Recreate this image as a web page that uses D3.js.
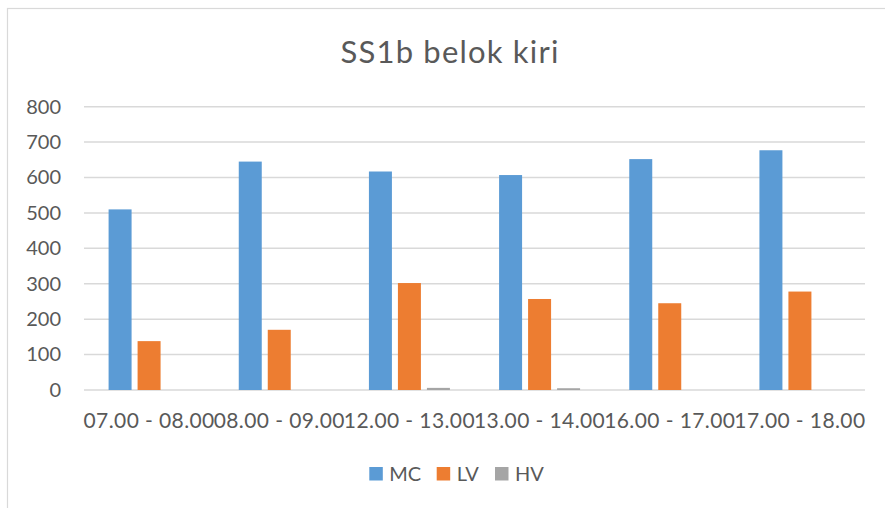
<!DOCTYPE html>
<html>
<head>
<meta charset="utf-8">
<script src="https://cdn.jsdelivr.net/npm/d3@7"></script>
<style>
  body { margin: 0; background: #fff; }
  text { font-family: Lato, "Open Sans", sans-serif; fill: #595959; }
</style>
</head>
<body>
<div id="chart"></div>
<script>
const categories = ['07.00 - 08.00', '08.00 - 09.00', '12.00 - 13.00', '13.00 - 14.00', '16.00 - 17.00', '17.00 - 18.00'];
const series = ['MC', 'LV', 'HV'];
const mcValues = [510, 645, 617, 607, 652, 677];
const lvValues = [138, 170, 302, 257, 245, 278];
const hvValues = [0, 0, 6, 5, 0, 0];
const yTicks = [0, 100, 200, 300, 400, 500, 600, 700, 800];
const colors = ['#5B9BD5', '#ED7D31', '#A5A5A5'];

const W = 885, H = 508;
const margin = { left: 84, right: 20, top: 106.7, bottom: 118 };
const plotRight = 865;
const plotBottom = 390;

const svg = d3.select('#chart').append('svg').attr('width', W).attr('height', H);

// chart border
svg.append('rect')
  .attr('x', 7.5).attr('y', 8.5)
  .attr('width', W + 10).attr('height', H + 10)
  .attr('fill', 'none').attr('stroke', '#D9D9D9').attr('stroke-width', 1.2);

// title
svg.append('text')
  .attr('x', 450).attr('y', 63)
  .attr('text-anchor', 'middle')
  .attr('font-size', '31px')
  .style('letter-spacing', '1.2px')
  .text('SS1b belok kiri');

const x0 = d3.scaleBand().domain(categories).range([margin.left, plotRight]).padding(0);
const x1 = d3.scaleBand().domain(series).range([0, x0.bandwidth()])
  .paddingInner(0.207).paddingOuter(0.848);
const y = d3.scaleLinear().domain([0, 800]).range([plotBottom, margin.top]);

// gridlines
svg.append('g')
  .selectAll('line')
  .data(yTicks)
  .join('line')
  .attr('x1', margin.left).attr('x2', plotRight)
  .attr('y1', d => y(d)).attr('y2', d => y(d))
  .attr('stroke', '#D9D9D9').attr('stroke-width', 1.5);

// y axis labels
const yAxis = d3.axisLeft(y).tickValues(yTicks).tickSize(0).tickPadding(0);
const yg = svg.append('g').attr('transform', `translate(61,0)`).call(yAxis);
yg.select('.domain').remove();
yg.selectAll('text').attr('font-size', '20px').attr('fill', '#595959')
  .style('font-family', 'Lato, sans-serif');

// bars
const rows = categories.map((c, i) => ({ cat: c, vals: [mcValues[i], lvValues[i], hvValues[i]] }));
const groups = svg.append('g')
  .selectAll('g')
  .data(rows)
  .join('g')
  .attr('transform', d => `translate(${x0(d.cat)},0)`);

groups.selectAll('rect')
  .data(d => d.vals.map((v, j) => ({ key: series[j], v, j })))
  .join('rect')
  .attr('x', d => x1(d.key))
  .attr('width', x1.bandwidth())
  .attr('y', d => y(d.v))
  .attr('height', d => plotBottom - y(d.v))
  .attr('fill', d => colors[d.j]);

// x axis labels
const xAxis = d3.axisBottom(x0).tickSize(0).tickPadding(0);
const xg = svg.append('g').attr('transform', `translate(0,${plotBottom})`).call(xAxis);
xg.select('.domain').remove();
xg.selectAll('text')
  .attr('y', 38).attr('dy', null)
  .attr('font-size', '21px').attr('fill', '#595959')
  .style('font-family', 'Lato, sans-serif')
  .style('letter-spacing', '0.4px');

// legend
const legendX = [369.3, 436.7, 495];
const legend = svg.append('g')
  .selectAll('g')
  .data(series)
  .join('g')
  .attr('transform', (d, i) => `translate(${legendX[i]},467)`);
legend.append('rect')
  .attr('width', 13.5).attr('height', 13.5)
  .attr('fill', (d, i) => colors[i]);
legend.append('text')
  .attr('x', 20).attr('y', 14)
  .attr('font-size', '20px')
  .text(d => d);
</script>
</body>
</html>
